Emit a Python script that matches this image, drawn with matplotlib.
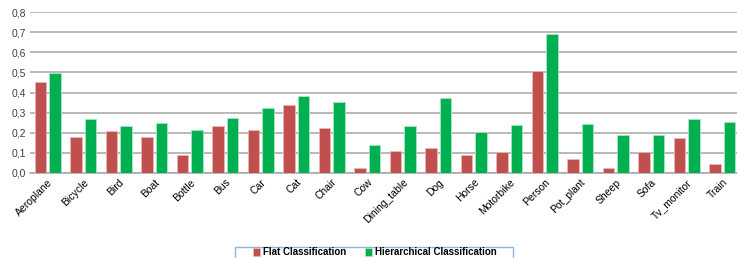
import matplotlib
matplotlib.use("Agg")
import matplotlib.pyplot as plt
from matplotlib.patches import Rectangle
import numpy as np

plt.rcParams['font.family'] = ['Liberation Sans Narrow', 'Liberation Sans', 'DejaVu Sans']

# data
categories = ['Aeroplane', 'Bicycle', 'Bird', 'Boat', 'Bottle', 'Bus', 'Car', 'Cat', 'Chair',
              'Cow', 'Dining_table', 'Dog', 'Horse', 'Motorbike', 'Person', 'Pot_plant',
              'Sheep', 'Sofa', 'Tv_monitor', 'Train']
flat = [0.452, 0.178, 0.208, 0.180, 0.090, 0.235, 0.214, 0.338, 0.222, 0.025,
        0.108, 0.124, 0.090, 0.104, 0.507, 0.072, 0.025, 0.106, 0.176, 0.046]
hier = [0.498, 0.270, 0.233, 0.247, 0.215, 0.275, 0.325, 0.383, 0.353, 0.139,
        0.234, 0.374, 0.202, 0.237, 0.692, 0.245, 0.191, 0.190, 0.267, 0.253]
yticks = [0.0, 0.1, 0.2, 0.3, 0.4, 0.5, 0.6, 0.7, 0.8]

red = '#C0504D'
green = '#00B050'

fig = plt.figure(figsize=(7.37, 2.58), dpi=100)
ax = fig.add_axes([30 / 737, 85 / 258, 710 / 737, 161 / 258])

x = np.arange(len(categories))
w = 0.33
b1 = ax.bar(x - 0.205, flat, w, color=red, edgecolor='#E8B8B6', linewidth=0.6,
            label='Flat Classification', zorder=3)
b2 = ax.bar(x + 0.205, hier, w, color=green, edgecolor='#A8E6C0', linewidth=0.6,
            label='Hierarchical Classification', zorder=3)

ax.set_xlim(-0.5, len(categories) - 0.5)
ax.set_ylim(0, 0.8)
ax.set_yticks(yticks)
ax.set_yticklabels([f'{v:.1f}'.replace('.', ',') for v in yticks], fontsize=7.5, color='#404040')
ax.set_xticks(x)
ax.set_xticklabels(categories, rotation=45, ha='right', rotation_mode='anchor', fontsize=7.5)
ax.tick_params(axis='both', length=0, pad=3)
ax.yaxis.grid(True, color='#A6A6A6', linewidth=1.1, zorder=0)
for s in ['top', 'right', 'left']:
    ax.spines[s].set_visible(False)
ax.spines['bottom'].set_color('#A6A6A6')
ax.spines['bottom'].set_linewidth(1.1)

# legend box runs off the bottom of the image, so draw the frame by hand
fig.patches.append(Rectangle((235 / 737, -10 / 258), 278 / 737, 21 / 258,
                             transform=fig.transFigure, facecolor='white',
                             edgecolor='#95B3D7', linewidth=1.0, zorder=1))
leg = fig.legend(handles=[b1, b2], loc='center', ncol=2,
                 bbox_to_anchor=(375 / 737, 6 / 258), bbox_transform=fig.transFigure,
                 prop={'weight': 'bold', 'size': 7}, frameon=False,
                 handlelength=0.7, handleheight=0.9, handletextpad=0.3, columnspacing=2.0,
                 borderpad=0, borderaxespad=0)

fig.savefig('out.png', dpi=100)
